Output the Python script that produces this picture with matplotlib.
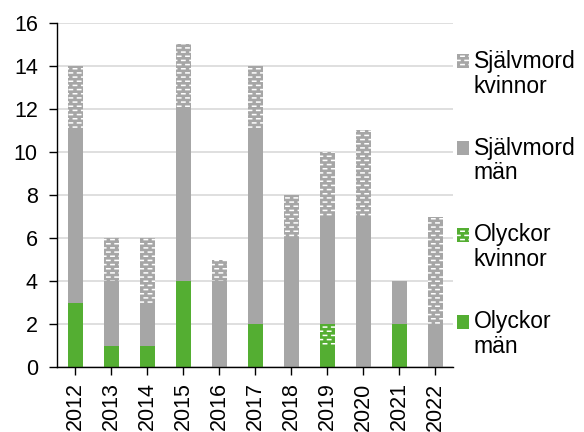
import numpy as np
import matplotlib
matplotlib.use("Agg")
import matplotlib.pyplot as plt
import matplotlib.hatch as mhatch
from matplotlib.path import Path
from matplotlib.patches import Rectangle
from matplotlib.container import BarContainer
from matplotlib.legend_handler import HandlerPatch, update_from_first_child

years = ["2012", "2013", "2014", "2015", "2016", "2017", "2018", "2019", "2020", "2021", "2022"]
olyckor_man = [3, 1, 1, 4, 0, 2, 0, 1, 0, 2, 0]
olyckor_kvinnor = [0, 0, 0, 0, 0, 0, 0, 1, 0, 0, 0]
sjalvmord_man = [8, 3, 2, 8, 4, 9, 6, 5, 7, 2, 2]
sjalvmord_kvinnor = [3, 2, 3, 3, 1, 3, 2, 3, 4, 0, 5]

GREEN = "#54AE32"
GREY = "#A6A6A6"


# brick-like short dashes, roughly like the excel pattern
class DashHatch(mhatch.HatchPatternBase):
    def __init__(self, hatch, density):
        self.rows = int(hatch.count('b') * density)
        self.cols = self.rows // 2
        self.num_vertices = self.rows * self.cols * 2

    def set_vertices_and_codes(self, vertices, codes):
        k = 0
        dx = 1.0 / self.cols
        for r in range(self.rows):
            y = (r + 0.5) / self.rows
            off = (dx / 2) if r % 2 else 0.0
            for c in range(self.cols):
                x0 = c * dx + off + dx * 0.3
                vertices[k] = (x0, y)
                vertices[k + 1] = (x0 + dx * 0.4, y)
                codes[k] = Path.MOVETO
                codes[k + 1] = Path.LINETO
                k += 2


mhatch._hatch_types.append(DashHatch)


# legend box sits next to the first text line, not centred on both
def top_box(legend, orig_handle, xdescent, ydescent, width, height, fontsize):
    return Rectangle((-xdescent, -ydescent + 0.58 * fontsize), width, height)


plt.rcParams['font.family'] = ['Liberation Sans', 'DejaVu Sans']
plt.rcParams['hatch.linewidth'] = 1.1

fig = plt.figure(figsize=(5.84, 4.32), dpi=100)
ax = fig.add_axes([0.098, 0.150, 0.678, 0.797])

x = np.arange(len(years))
w = 0.42
b1 = np.array(olyckor_man)
b2 = b1 + np.array(olyckor_kvinnor)
b3 = b2 + np.array(sjalvmord_man)

h1 = ax.bar(x, olyckor_man, w, color=GREEN, linewidth=0, zorder=2)
h2 = ax.bar(x, olyckor_kvinnor, w, bottom=b1, color=GREEN, edgecolor="white",
            linewidth=0, hatch="bbbb", zorder=2)
h3 = ax.bar(x, sjalvmord_man, w, bottom=b2, color=GREY, linewidth=0, zorder=2)
h4 = ax.bar(x, sjalvmord_kvinnor, w, bottom=b3, color=GREY, edgecolor="white",
            linewidth=0, hatch="bbbb", zorder=2)

ax.set_xlim(-0.5, len(years) - 0.5)
ax.set_ylim(0, 16)
ax.set_yticks(range(0, 17, 2))
ax.set_xticks(x)
ax.set_xticklabels(years, rotation=90)
ax.tick_params(labelsize=15.5, width=1, length=6, color="black")
ax.tick_params(axis="y", pad=8)
ax.tick_params(axis="x", pad=5)
ax.yaxis.grid(True, color="#D9D9D9", linewidth=1.2, zorder=0)
ax.set_axisbelow(True)
for s in ["top", "right"]:
    ax.spines[s].set_visible(False)
ax.spines["left"].set_linewidth(1)
ax.spines["bottom"].set_linewidth(1)

leg = fig.legend([h4, h3, h2, h1],
                 ["Självmord\nkvinnor", "Självmord\nmän", "Olyckor\nkvinnor", "Olyckor\nmän"],
                 loc="center left", bbox_to_anchor=(0.782, 0.528), frameon=False,
                 fontsize=16.5, handlelength=0.55, handleheight=0.55, handletextpad=0.2,
                 labelspacing=1.7, borderpad=0, borderaxespad=0,
                 handler_map={BarContainer: HandlerPatch(patch_func=top_box,
                                                         update_func=update_from_first_child)})
for t in leg.get_texts():
    t.set_linespacing(1.1)

fig.savefig("out.png", dpi=100)
